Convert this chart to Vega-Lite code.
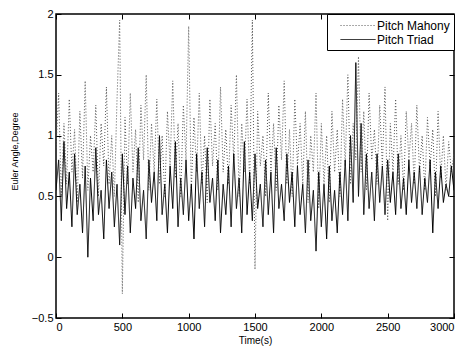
{
"$schema": "https://vega.github.io/schema/vega-lite/v6.json",
"width": 398, "height": 304,
"autosize": {"type": "none"},
"padding": {"left": 56, "top": 14, "right": 14, "bottom": 31},
"background": "white",
"config": {
  "font": "Liberation Sans",
  "view": {"stroke": "black", "strokeWidth": 1.5},
  "axis": {"grid": false, "domain": false, "tickColor": "black", "tickSize": -5, "labelPadding": 8, "labelColor": "black", "labelFontSize": 11, "titleFontSize": 10, "titleFontWeight": "normal", "titleColor": "black"},
  "legend": {"orient": "top-right", "offset": 0, "strokeColor": "black", "fillColor": "white", "padding": 4, "labelFontSize": 12, "labelColor": "black", "symbolType": "M0.29,0H5.29", "symbolSize": 196, "symbolStrokeWidth": 1, "rowPadding": 0, "labelOffset": 31}
},
"data": {"values": [
{"t":0,"m":0.9,"p":0.55},{"t":20,"m":1.35,"p":0.8},{"t":40,"m":0.5,"p":0.3},{"t":60,"m":1.1,"p":0.95},{"t":80,"m":0.6,"p":0.4},
{"t":100,"m":1.3,"p":0.7},{"t":120,"m":0.7,"p":0.25},{"t":140,"m":1.05,"p":0.85},{"t":160,"m":0.45,"p":0.35},{"t":180,"m":1.2,"p":0.6},
{"t":200,"m":0.65,"p":0.2},{"t":220,"m":1.45,"p":0.75},{"t":240,"m":0.55,"p":0.0},{"t":260,"m":1.0,"p":0.65},{"t":280,"m":0.7,"p":0.3},
{"t":300,"m":1.25,"p":0.9},{"t":320,"m":0.5,"p":0.35},{"t":340,"m":1.1,"p":0.55},{"t":360,"m":0.75,"p":0.15},{"t":380,"m":1.4,"p":0.8},
{"t":400,"m":0.6,"p":0.4},{"t":420,"m":1.0,"p":0.7},{"t":440,"m":0.5,"p":0.25},{"t":460,"m":1.3,"p":0.6},{"t":480,"m":1.95,"p":0.1},
{"t":500,"m":-0.3,"p":0.85},{"t":520,"m":1.15,"p":0.35},{"t":540,"m":0.6,"p":0.75},{"t":560,"m":1.35,"p":0.2},{"t":580,"m":0.7,"p":0.65},
{"t":600,"m":1.05,"p":0.4},{"t":620,"m":0.45,"p":0.9},{"t":640,"m":1.25,"p":0.3},{"t":660,"m":0.8,"p":0.55},{"t":680,"m":1.5,"p":0.15},
{"t":700,"m":0.55,"p":0.8},{"t":720,"m":1.1,"p":0.45},{"t":740,"m":0.7,"p":0.7},{"t":760,"m":1.3,"p":0.3},{"t":780,"m":0.6,"p":1.0},
{"t":800,"m":1.0,"p":0.35},{"t":820,"m":0.5,"p":0.6},{"t":840,"m":1.2,"p":0.2},{"t":860,"m":0.75,"p":0.75},{"t":880,"m":1.45,"p":0.4},
{"t":900,"m":0.65,"p":0.95},{"t":920,"m":1.1,"p":0.25},{"t":940,"m":0.5,"p":0.65},{"t":960,"m":1.25,"p":0.35},{"t":980,"m":0.8,"p":0.8},
{"t":1000,"m":1.9,"p":0.3},{"t":1020,"m":0.55,"p":0.6},{"t":1040,"m":1.15,"p":0.15},{"t":1060,"m":0.7,"p":0.85},{"t":1080,"m":1.35,"p":0.4},
{"t":1100,"m":0.6,"p":0.7},{"t":1120,"m":1.0,"p":0.25},{"t":1140,"m":0.45,"p":0.9},{"t":1160,"m":1.3,"p":0.45},{"t":1180,"m":0.75,"p":0.65},
{"t":1200,"m":1.1,"p":0.3},{"t":1220,"m":0.55,"p":0.8},{"t":1240,"m":1.4,"p":0.2},{"t":1260,"m":0.7,"p":0.6},{"t":1280,"m":1.05,"p":0.35},
{"t":1300,"m":0.6,"p":0.75},{"t":1320,"m":1.25,"p":0.25},{"t":1340,"m":0.8,"p":0.85},{"t":1360,"m":1.5,"p":0.4},{"t":1380,"m":0.5,"p":0.65},
{"t":1400,"m":1.1,"p":0.2},{"t":1420,"m":0.7,"p":0.95},{"t":1440,"m":1.3,"p":0.35},{"t":1460,"m":0.6,"p":0.7},{"t":1480,"m":1.95,"p":0.3},
{"t":1500,"m":-0.1,"p":0.85},{"t":1520,"m":1.2,"p":0.4},{"t":1540,"m":0.75,"p":0.6},{"t":1560,"m":1.0,"p":0.25},{"t":1580,"m":0.5,"p":0.8},
{"t":1600,"m":1.35,"p":0.35},{"t":1620,"m":0.7,"p":0.7},{"t":1640,"m":1.1,"p":0.2},{"t":1660,"m":0.55,"p":0.9},{"t":1680,"m":1.25,"p":0.4},
{"t":1700,"m":0.8,"p":0.6},{"t":1720,"m":1.45,"p":0.3},{"t":1740,"m":0.6,"p":0.85},{"t":1760,"m":1.05,"p":0.45},{"t":1780,"m":0.5,"p":0.7},
{"t":1800,"m":1.3,"p":0.25},{"t":1820,"m":0.75,"p":0.75},{"t":1840,"m":1.1,"p":0.35},{"t":1860,"m":0.6,"p":0.6},{"t":1880,"m":1.2,"p":0.2},
{"t":1900,"m":0.45,"p":0.8},{"t":1920,"m":1.0,"p":0.3},{"t":1940,"m":0.7,"p":0.55},{"t":1960,"m":1.35,"p":0.05},{"t":1980,"m":0.4,"p":0.7},
{"t":2000,"m":1.1,"p":0.25},{"t":2020,"m":0.6,"p":0.6},{"t":2040,"m":1.0,"p":0.15},{"t":2060,"m":0.45,"p":0.75},{"t":2080,"m":1.2,"p":0.3},
{"t":2100,"m":0.7,"p":0.55},{"t":2120,"m":1.05,"p":0.2},{"t":2140,"m":0.5,"p":0.7},{"t":2160,"m":1.3,"p":0.35},{"t":2180,"m":0.75,"p":0.8},
{"t":2200,"m":1.5,"p":0.3},{"t":2220,"m":0.6,"p":1.0},{"t":2240,"m":1.1,"p":0.45},{"t":2260,"m":0.8,"p":1.6},{"t":2280,"m":1.65,"p":0.5},
{"t":2300,"m":0.7,"p":1.1},{"t":2320,"m":1.2,"p":0.35},{"t":2340,"m":0.55,"p":0.85},{"t":2360,"m":1.35,"p":0.4},{"t":2380,"m":0.8,"p":0.7},
{"t":2400,"m":1.05,"p":0.3},{"t":2420,"m":0.6,"p":0.85},{"t":2440,"m":1.25,"p":0.45},{"t":2460,"m":0.75,"p":0.75},{"t":2480,"m":1.4,"p":0.35},
{"t":2500,"m":0.3,"p":0.8},{"t":2520,"m":1.1,"p":0.45},{"t":2540,"m":0.7,"p":0.7},{"t":2560,"m":1.3,"p":0.35},{"t":2580,"m":0.6,"p":0.85},
{"t":2600,"m":1.0,"p":0.4},{"t":2620,"m":0.55,"p":0.65},{"t":2640,"m":1.2,"p":0.35},{"t":2660,"m":0.8,"p":0.8},{"t":2680,"m":1.1,"p":0.45},
{"t":2700,"m":0.6,"p":0.7},{"t":2720,"m":1.25,"p":0.4},{"t":2740,"m":0.7,"p":0.75},{"t":2760,"m":1.0,"p":0.35},{"t":2780,"m":0.55,"p":0.65},
{"t":2800,"m":1.15,"p":0.45},{"t":2820,"m":0.75,"p":0.8},{"t":2840,"m":1.05,"p":0.2},{"t":2860,"m":0.5,"p":0.7},{"t":2880,"m":1.2,"p":0.4},
{"t":2900,"m":0.65,"p":0.75},{"t":2920,"m":1.0,"p":0.45},{"t":2940,"m":0.55,"p":0.6},{"t":2960,"m":0.95,"p":0.5},{"t":2980,"m":0.7,"p":0.75},
{"t":3000,"m":0.85,"p":0.55}
]},
"transform": [{"fold": ["m", "p"], "as": ["series", "v"]}],
"layer": [
  {
    "mark": {"type": "line", "strokeWidth": 1, "clip": true},
    "encoding": {
      "x": {"field": "t", "type": "quantitative", "scale": {"domain": [0, 3000], "nice": false, "zero": false},
            "axis": {"values": [0, 500, 1000, 1500, 2000, 2500, 3000], "format": "d", "title": "Time(s)", "titlePadding": 3}},
      "y": {"field": "v", "type": "quantitative", "scale": {"domain": [-0.5, 2], "nice": false, "zero": false},
            "axis": {"values": [-0.5, 0, 0.5, 1, 1.5, 2], "format": "~g", "title": "Euler Angle,Degree", "titleFontSize": 9, "titleX": -37, "titleY": 137}},
      "color": {"field": "series", "type": "nominal", "scale": {"domain": ["m", "p"], "range": ["#555555", "#000000"]},
                "legend": {"title": null, "labelExpr": "datum.label == 'm' ? 'Pitch Mahony' : 'Pitch Triad'"}},
      "strokeDash": {"field": "series", "type": "nominal", "scale": {"domain": ["m", "p"], "range": [[1, 2], [1, 0]]},
                "legend": {"title": null, "labelExpr": "datum.label == 'm' ? 'Pitch Mahony' : 'Pitch Triad'"}}
    }
  },
  {
    "mark": {"type": "point", "opacity": 0},
    "encoding": {
      "x": {"field": "t", "type": "quantitative", "axis": {"orient": "top", "values": [0, 500, 1000, 1500, 2000, 2500, 3000], "labels": false, "title": null}},
      "y": {"field": "v", "type": "quantitative", "axis": {"orient": "right", "values": [-0.5, 0, 0.5, 1, 1.5, 2], "labels": false, "title": null}}
    }
  }
],
"resolve": {"axis": {"x": "independent", "y": "independent"}}
}
